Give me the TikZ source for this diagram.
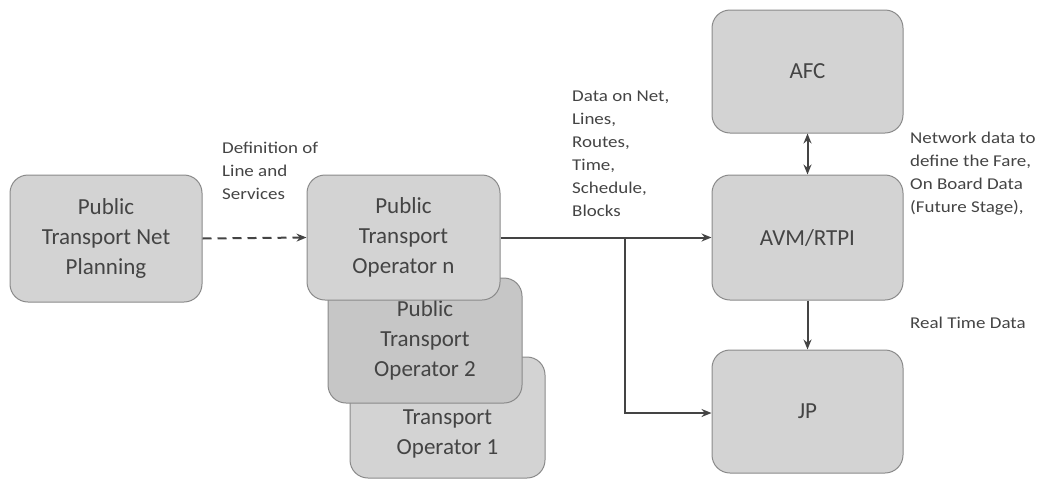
\documentclass[tikz,border=0pt]{standalone}
\usepackage{fontspec}
\setmainfont{Carlito}
\newfontfamily\notefont{Carlito}[FakeStretch=1.15]
\usetikzlibrary{arrows.meta}
\definecolor{boxfill}{HTML}{D3D3D3}
\definecolor{boxfilldark}{HTML}{C6C6C6}
\definecolor{boxline}{HTML}{8A8A8A}
\definecolor{ink}{HTML}{444444}
\tikzset{
  boxtext/.style={text=ink, font=\fontsize{23}{30}\selectfont, align=center},
  block/.style={boxtext, draw=boxline, line width=1pt, fill=boxfill, rounded corners=18pt,
    inner sep=0pt},
  note/.style={align=left, text=ink, font=\notefont\fontsize{16.5}{23}\selectfont,
    inner sep=0pt, anchor=north west},
  link/.style={draw=ink, line width=2pt, -{Stealth[length=10pt,width=8pt]}},
}
\begin{document}
\begin{tikzpicture}[x=1pt,y=-1pt]
\useasboundingbox (0,0) rectangle (1043,480);

% planning and operator stack
\node[block, minimum width=192pt, minimum height=127pt] (plan) at (106,238.5)
  {Public\\Transport Net\\Planning};
\node[block, minimum width=195pt, minimum height=121pt] (op1) at (447.5,417.5) {};
\node[boxtext, inner sep=0pt] (op1txt) at (447.5,434) {Transport\\Operator 1};
\node[block, fill=boxfilldark, minimum width=194pt, minimum height=125pt] (op2) at (425,340.5)
  {Public\\Transport\\Operator 2};
\node[block, minimum width=193pt, minimum height=125pt] (opn) at (403.5,237.5)
  {Public\\Transport\\Operator n};

% systems column
\node[block, minimum width=191pt, minimum height=123pt] (afc) at (807.5,71.5) {AFC};
\node[block, minimum width=191pt, minimum height=125pt] (avm) at (807.5,237.5) {AVM/RTPI};
\node[block, minimum width=191pt, minimum height=123pt] (jp) at (807.5,411.5) {JP};

% connectors
\draw[link, dash pattern=on 9pt off 6pt] (plan.east) -- (opn.west);
\draw[link] (opn.east) -- (avm.west);
\coordinate (split) at (625,237.5);
\draw[link] (split) |- ([yshift=-1.5pt]jp.west);
\draw[link, {Stealth[length=10pt,width=8pt]}-{Stealth[length=10pt,width=8pt]}] (afc.south) -- (avm.north);
\draw[link] (avm.south) -- (jp.north);

% labels
\node[note] (deflbl) at (222,142) {Definition of\\Line and\\Services};
\node[note] (datalbl) at (572,91) {Data on Net,\\Lines,\\Routes,\\Time,\\Schedule,\\Blocks};
\node[note] (farelbl) at (910,132) {Network data to\\define the Fare,\\On Board Data\\(Future Stage),};
\node[note] (rtlbl) at (910,317) {Real Time Data};
\end{tikzpicture}
\end{document}
